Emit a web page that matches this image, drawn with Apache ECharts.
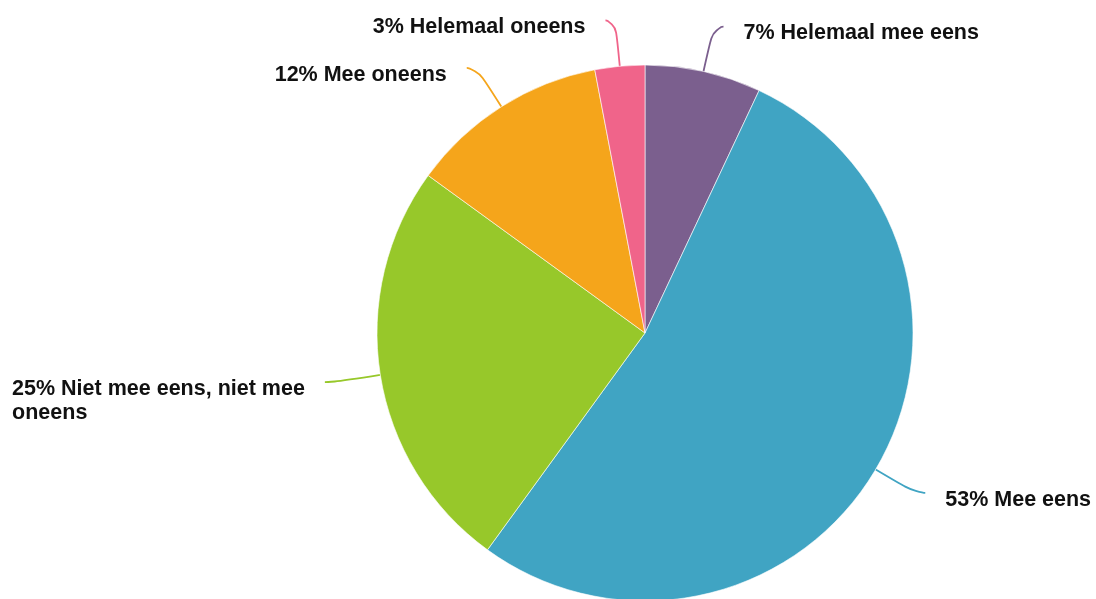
<!DOCTYPE html>
<html>
<head>
<meta charset="utf-8">
<script src="https://cdn.jsdelivr.net/npm/echarts@6/dist/echarts.min.js"></script>
<style>
  html, body { margin: 0; padding: 0; background: #ffffff; }
  #chart { width: 1096px; height: 599px; }
</style>
</head>
<body>
<div id="chart"></div>
<script>
// Survey answers, clockwise from the top
const categories = [
  'Helemaal mee eens',
  'Mee eens',
  'Niet mee eens, niet mee oneens',
  'Mee oneens',
  'Helemaal oneens'
];
const percentages = [7, 53, 25, 12, 3];
const sliceColors = ['#7b5f8e', '#40a4c3', '#97c82a', '#f5a51b', '#f0648a'];

const LINE_H = 24;
const FONT_SIZE = 21.5;
const FONT_FAMILY = '"Liberation Sans", Arial, sans-serif';
const MAX_LABEL_W = 300;

// word-wrap a label to a maximum pixel width
const measureCtx = document.createElement('canvas').getContext('2d');
measureCtx.font = 'bold ' + FONT_SIZE + 'px ' + FONT_FAMILY;
function wrapLabel(text) {
  const words = text.split(' ');
  const lines = [];
  let line = '';
  words.forEach(function (w) {
    const test = line ? line + ' ' + w : w;
    if (line && measureCtx.measureText(test).width > MAX_LABEL_W) {
      lines.push(line);
      line = w;
    } else {
      line = test;
    }
  });
  if (line) lines.push(line);
  return lines.join('\n');
}

const pieData = categories.map(function (name, i) {
  return {
    name: name,
    value: percentages[i],
    itemStyle: { color: sliceColors[i] },
    labelLine: { lineStyle: { color: sliceColors[i] } }
  };
});

const chart = echarts.init(document.getElementById('chart'), null, { renderer: 'canvas' });
chart.setOption({
  backgroundColor: '#ffffff',
  animation: false,
  series: [{
    type: 'pie',
    center: [645, 333],
    radius: 268,
    startAngle: 90,
    clockwise: true,
    avoidLabelOverlap: false,
    itemStyle: { borderColor: '#ffffff', borderWidth: 0.6 },
    label: {
      show: true,
      position: 'outside',
      formatter: function (p) { return wrapLabel(p.value + '% ' + p.name); },
      fontFamily: FONT_FAMILY,
      fontWeight: 'bold',
      fontSize: FONT_SIZE,
      lineHeight: LINE_H,
      color: '#111111',
      distanceToLabelLine: 20
    },
    labelLine: {
      show: true,
      length: 46,
      length2: 10,
      smooth: 0.8,
      lineStyle: { width: 1.8 }
    },
    labelLayout: function (params) {
      const r = params.labelRect;
      const out = { dy: r.height / 2 - LINE_H / 2 + 7 };
      // wrapped labels on the left keep their lines flush left
      if (params.align === 'right' && r.height > LINE_H * 1.5) {
        out.align = 'left';
        out.dx = -r.width;
      }
      return out;
    },
    data: pieData
  }]
});
</script>
</body>
</html>
